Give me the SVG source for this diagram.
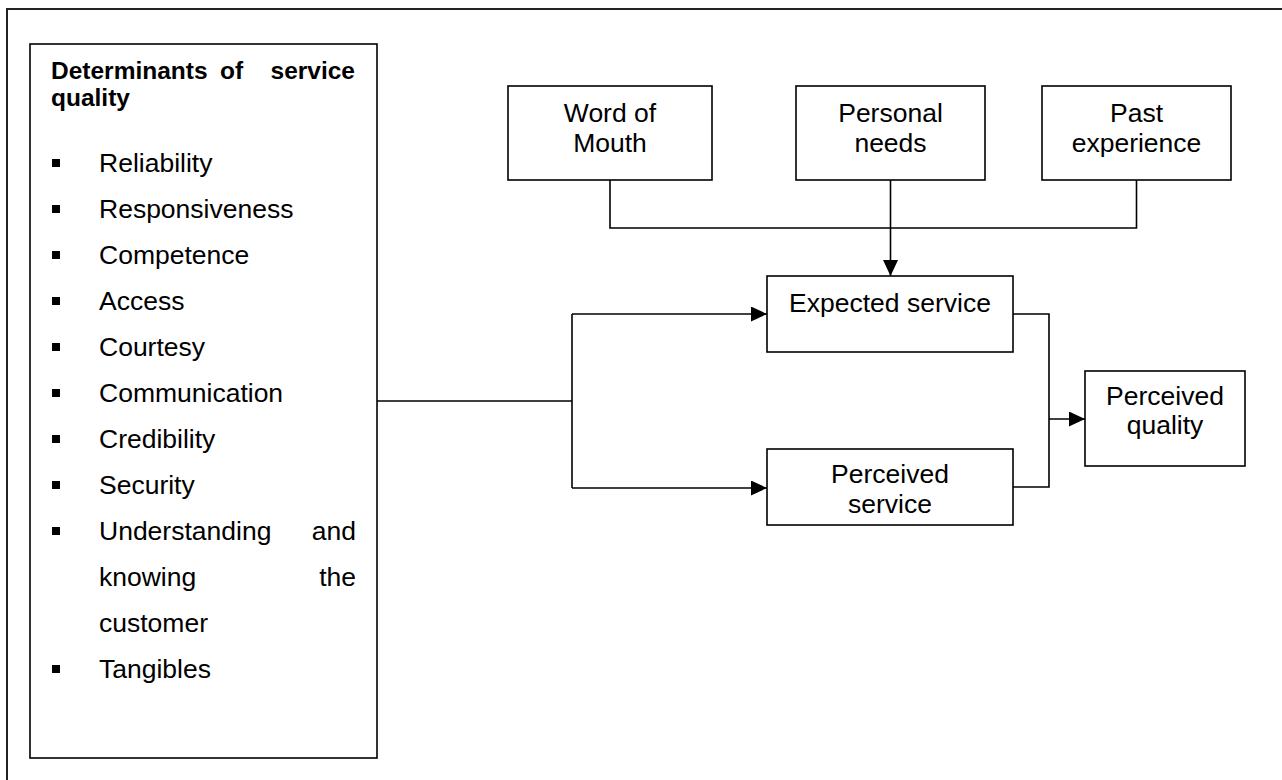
<svg xmlns="http://www.w3.org/2000/svg" width="1282" height="780" viewBox="0 0 1282 780">
<style>
  .box{fill:#fff;stroke:#000;stroke-width:1.6}
  .frame{fill:none;stroke:#222;stroke-width:2}
  .t{font-family:"Liberation Sans",Arial,sans-serif;font-size:26.5px;fill:#000}
  .c{text-anchor:middle}
  .b{font-weight:bold;font-size:24.5px}
  .e{text-anchor:end}
  .line{fill:none;stroke:#000;stroke-width:1.6}
  .bul{fill:#000}
</style>
<defs>
  <marker id="arr" markerWidth="16" markerHeight="15" refX="16" refY="7.5" orient="auto" markerUnits="userSpaceOnUse">
    <path d="M0,0 L16,7.5 L0,15 Z" fill="#000"/>
  </marker>
</defs>
<rect width="1282" height="780" fill="#fff"/>
<rect id="frame" class="frame" x="7" y="9" width="1290" height="790"/>

<g id="determinants">
  <rect class="box" x="30" y="44" width="347" height="714" stroke-width="2.2"/>
  <text class="t b" x="51" y="79">Determinants</text>
  <text class="t b" x="220" y="79">of</text>
  <text class="t b e" x="355" y="79">service</text>
  <text class="t b" x="51" y="106">quality</text>
  <rect class="bul" x="52" y="159" width="8" height="8"/>
  <text class="t" x="99" y="172">Reliability</text>
  <rect class="bul" x="52" y="205" width="8" height="8"/>
  <text class="t" x="99" y="218">Responsiveness</text>
  <rect class="bul" x="52" y="251" width="8" height="8"/>
  <text class="t" x="99" y="264">Competence</text>
  <rect class="bul" x="52" y="297" width="8" height="8"/>
  <text class="t" x="99" y="310">Access</text>
  <rect class="bul" x="52" y="343" width="8" height="8"/>
  <text class="t" x="99" y="356">Courtesy</text>
  <rect class="bul" x="52" y="389" width="8" height="8"/>
  <text class="t" x="99" y="402">Communication</text>
  <rect class="bul" x="52" y="435" width="8" height="8"/>
  <text class="t" x="99" y="448">Credibility</text>
  <rect class="bul" x="52" y="481" width="8" height="8"/>
  <text class="t" x="99" y="494">Security</text>
  <rect class="bul" x="52" y="527" width="8" height="8"/>
  <text class="t" x="99" y="540">Understanding</text>
  <text class="t e" x="356" y="540">and</text>
  <text class="t" x="99" y="586">knowing</text>
  <text class="t e" x="356" y="586">the</text>
  <text class="t" x="99" y="632">customer</text>
  <rect class="bul" x="52" y="665" width="8" height="8"/>
  <text class="t" x="99" y="678">Tangibles</text>
</g>

<g id="word-of-mouth">
  <rect class="box" x="508" y="86" width="204" height="94"/>
  <text class="t c" x="610" y="122">Word of</text>
  <text class="t c" x="610" y="152">Mouth</text>
</g>
<g id="personal-needs">
  <rect class="box" x="796" y="86" width="189" height="94"/>
  <text class="t c" x="890.5" y="122">Personal</text>
  <text class="t c" x="890.5" y="152">needs</text>
</g>
<g id="past-experience">
  <rect class="box" x="1042" y="86" width="189" height="94"/>
  <text class="t c" x="1136.5" y="122">Past</text>
  <text class="t c" x="1136.5" y="152">experience</text>
</g>
<g id="expected-service">
  <rect class="box" x="767" y="276" width="246" height="76"/>
  <text class="t c" x="890" y="312">Expected service</text>
</g>
<g id="perceived-service">
  <rect class="box" x="767" y="449" width="246" height="76"/>
  <text class="t c" x="890" y="483">Perceived</text>
  <text class="t c" x="890" y="513">service</text>
</g>
<g id="perceived-quality">
  <rect class="box" x="1085" y="371" width="160" height="95"/>
  <text class="t c" x="1165" y="405">Perceived</text>
  <text class="t c" x="1165" y="434">quality</text>
</g>

<g id="connectors">
  <path class="line" d="M610,180 V228 H1136.5 V180"/>
  <path class="line" d="M890.5,180 V276" marker-end="url(#arr)"/>
  <path class="line" d="M377,401 H572"/>
  <path class="line" d="M572,314 V488"/>
  <path class="line" d="M572,314 H767" marker-end="url(#arr)"/>
  <path class="line" d="M572,488 H767" marker-end="url(#arr)"/>
  <path class="line" d="M1013,314 H1049 V487 H1013"/>
  <path class="line" d="M1049,419 H1085" marker-end="url(#arr)"/>
</g>
</svg>
